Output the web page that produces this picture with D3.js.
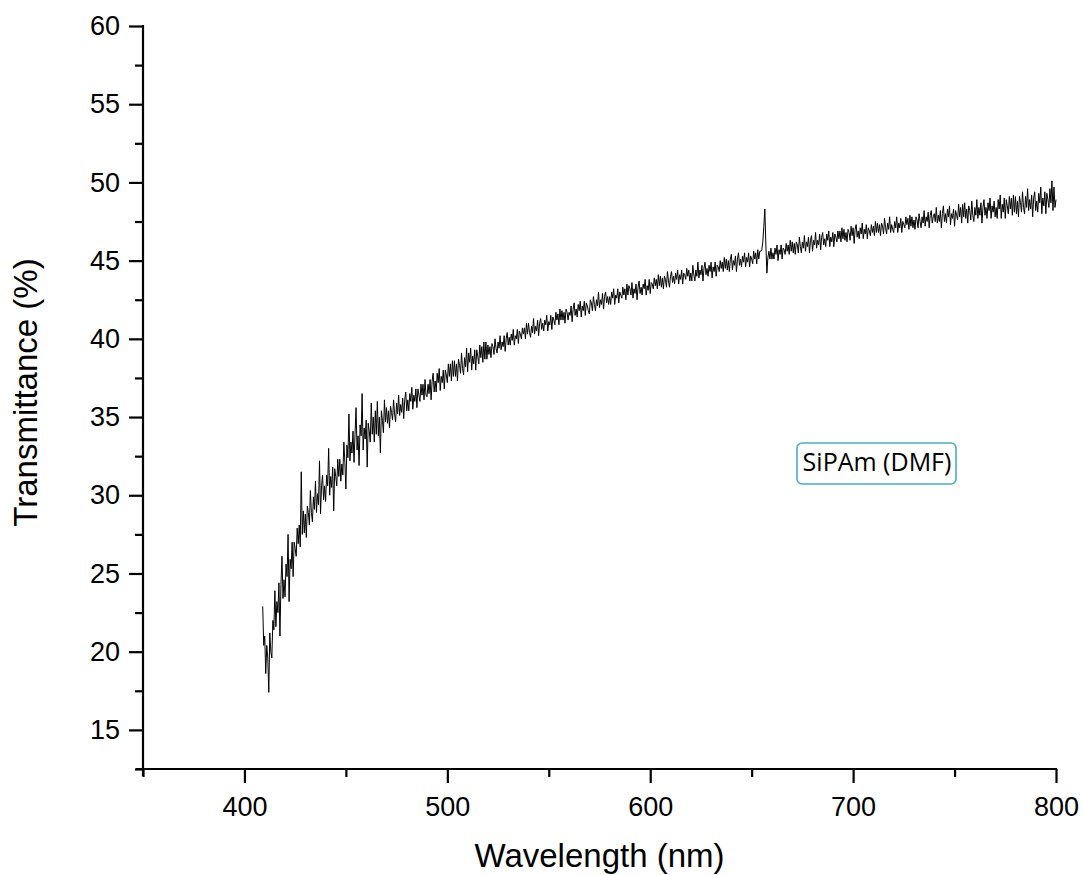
<!DOCTYPE html>
<html>
<head>
<meta charset="utf-8">
<script src="https://cdn.jsdelivr.net/npm/d3@7"></script>
<style>
  html, body { margin: 0; padding: 0; background: #fff; }
  svg { display: block; }
  .tick-label { font-family: "Liberation Sans", Arial, sans-serif; font-size: 27px; fill: #000; }
  .axis-title { font-family: "Liberation Sans", Arial, sans-serif; font-size: 33px; fill: #000; }
  .legend-text { font-family: "Open Sans", "Noto Sans", sans-serif; font-size: 25px; fill: #000; }
</style>
</head>
<body>
<svg id="chart" width="1083" height="875"></svg>
<script>
// ---- Data ----
const xDomain = [350, 800];
const yDomain = [12.5, 60];
const xMajorTicks = [400, 500, 600, 700, 800];
const xMinorTicks = [350, 450, 550, 650, 750];
const yMajorTicks = [15, 20, 25, 30, 35, 40, 45, 50, 55, 60];
const yMinorTicks = [12.5, 17.5, 22.5, 27.5, 32.5, 37.5, 42.5, 47.5, 52.5, 57.5];
const xTitle = "Wavelength (nm)";
const yTitle = "Transmittance (%)";
const legendLabel = "SiPAm (DMF)";

// spectrum sampled every 0.5 nm from 409 nm to 800 nm
const wavelengthStart = 409;
const wavelengthEnd = 800;
const wavelengthStep = 0.5;
const transmittance = [
// 409 - 424.5
22.9,20.4,21.0,18.6,20.4,19.6,17.4,21.2,20.0,19.6,
22.0,21.4,23.9,21.6,23.2,22.5,24.4,21.0,24.3,26.1,
23.4,24.6,23.5,25.6,24.8,27.5,23.2,25.9,25.3,27.0,
24.8,27.0,
// 425 - 447.5
26.6,26.1,27.9,26.9,28.1,26.7,31.5,27.5,29.0,27.6,
28.8,27.3,29.3,28.9,28.1,30.3,28.9,28.3,29.9,29.1,
30.9,28.9,30.1,29.4,32.2,28.8,30.6,31.3,29.7,30.6,
29.6,31.3,30.6,33.0,30.0,31.2,30.5,31.8,29.0,31.7,
31.2,30.6,32.3,31.2,32.3,30.9,
// 448 - 469.5
32.0,31.3,33.4,32.1,30.4,33.2,32.4,35.2,32.2,33.4,
32.7,34.1,32.1,33.9,35.6,32.9,33.8,31.9,34.5,33.8,
36.5,32.9,34.3,33.6,34.8,31.8,34.6,34.1,33.4,35.9,
33.9,35.0,33.4,35.4,33.9,36.0,33.8,35.0,32.7,35.4,
34.8,34.0,36.1,34.7,
// 470 - 519.5
35.6,34.6,35.4,34.3,35.7,35.3,34.8,36.1,35.2,34.7,
35.9,35.2,36.4,35.1,35.8,35.3,36.2,34.9,36.1,36.6,
35.4,36.1,35.4,36.5,36.0,36.9,35.5,36.4,36.0,36.8,
35.6,36.8,36.4,36.0,37.1,36.4,37.1,36.1,37.4,36.4,
36.3,37.1,36.5,37.4,36.1,37.3,37.8,36.6,37.3,36.6,
37.8,37.2,38.1,36.7,37.6,37.2,38.0,36.8,38.0,37.7,
37.2,38.4,37.6,38.4,37.3,38.6,37.6,38.6,37.6,38.4,
37.3,38.7,38.3,37.8,39.1,38.1,37.7,38.8,38.2,39.4,
37.9,39.1,38.5,39.4,38.0,38.9,38.4,39.3,38.0,39.3,
38.9,38.4,39.6,38.8,39.5,38.5,39.8,38.7,39.8,38.7,
// 520 - 649.5
39.6,39.0,39.5,38.8,39.7,39.5,39.0,40.0,39.4,39.1,
39.8,39.4,40.2,39.3,39.8,39.5,40.2,39.2,40.0,40.4,
39.6,40.1,39.6,40.3,39.9,40.6,39.6,40.2,40.0,40.6,
39.7,40.5,40.3,40.0,40.7,40.3,40.7,40.0,41.0,40.3,
41.0,40.4,40.1,40.8,40.4,41.3,40.3,40.8,40.5,41.2,
40.2,41.0,41.3,40.6,41.0,40.5,41.2,40.9,41.5,40.5,
41.1,40.9,41.5,40.6,41.4,41.2,40.9,41.7,41.2,41.6,
40.9,41.9,41.2,41.8,41.2,41.7,41.0,41.9,41.7,41.2,
41.7,41.5,42.1,41.1,41.9,42.3,41.5,41.9,41.4,42.2,
41.8,42.4,41.4,42.1,41.8,42.4,41.5,42.3,42.1,41.8,
41.6,42.5,42.3,41.8,42.7,42.2,41.8,42.5,42.1,43.0,
42.0,42.5,42.2,42.9,41.9,42.7,43.0,42.3,42.7,42.2,
42.7,42.2,43.0,42.6,43.2,42.2,42.8,42.6,43.2,42.3,
43.0,42.8,42.6,43.3,42.8,43.2,42.5,43.5,42.8,43.4,
43.2,42.8,43.6,42.6,43.2,42.9,43.5,42.5,43.3,43.7,
42.9,43.3,42.8,43.5,43.2,43.8,42.8,43.4,43.1,43.8,
42.9,43.6,43.5,43.2,43.9,43.4,43.8,43.2,44.1,43.4,
44.0,43.3,43.9,43.2,44.0,43.8,43.3,44.3,43.7,43.3,
44.0,44.3,43.6,44.0,43.5,44.2,43.8,44.4,43.5,44.1,
43.8,44.4,43.5,44.2,44.1,43.8,44.5,44.0,44.4,43.7,
44.2,43.7,44.7,44.1,43.7,44.4,44.0,44.9,43.9,44.4,
44.1,44.7,43.7,44.5,44.9,44.1,44.5,44.0,44.7,44.3,
44.9,43.9,44.6,44.3,44.9,44.0,44.7,44.6,44.3,45.0,
44.5,44.9,44.3,45.2,44.5,45.1,44.4,45.0,44.3,45.1,
45.4,44.4,45.0,44.7,45.3,44.3,45.1,45.5,44.7,45.1,
44.6,45.3,44.9,45.5,44.6,45.2,44.9,45.5,44.6,45.3,
// 650 - 659.5 (spike near 656 nm)
45.1,44.8,45.6,45.1,45.5,44.8,45.7,45.1,45.6,45.6,
45.7,46.2,47.2,48.3,46.0,44.2,45.2,45.6,45.1,45.8,
// 660 - 789.5
45.1,45.5,45.1,45.8,45.4,46.0,45.0,45.7,45.4,46.0,
45.1,45.8,45.7,45.4,46.1,45.6,46.0,45.4,46.3,45.6,
46.2,45.5,46.1,45.4,46.2,46.0,45.5,46.5,45.9,45.5,
46.2,45.8,46.6,45.6,46.2,45.9,46.5,45.5,46.3,46.6,
45.6,46.3,46.0,46.8,45.8,46.3,46.0,46.7,45.7,46.5,
46.8,46.0,46.4,45.9,46.7,46.3,46.9,45.9,46.5,46.2,
46.8,45.9,46.7,46.5,46.2,46.9,46.4,46.9,46.2,47.1,
46.4,47.0,46.3,46.8,46.2,47.0,46.8,46.3,47.2,46.6,
47.1,46.1,47.0,47.3,46.5,46.9,46.4,47.1,46.7,47.4,
46.4,47.0,46.7,47.3,46.4,47.1,46.9,46.6,47.3,46.8,
47.2,46.6,47.5,46.8,47.4,46.8,47.3,46.6,47.4,47.2,
46.7,47.7,47.1,46.7,47.4,47.0,47.8,46.8,47.3,47.0,
46.8,47.5,47.1,47.8,46.8,47.4,47.1,47.7,46.8,47.5,
47.3,47.1,47.8,47.3,47.7,47.0,47.9,47.2,47.8,47.1,
47.6,47.0,47.8,47.6,47.1,48.0,47.5,47.1,47.8,47.4,
48.2,47.2,47.8,47.5,48.1,47.1,47.9,48.2,47.4,47.8,
48.0,47.5,48.4,47.4,47.9,47.5,48.2,47.1,48.0,48.5,
47.5,48.0,47.4,48.3,47.8,48.5,47.3,48.0,47.7,48.3,
47.2,48.2,47.9,47.6,48.6,47.8,48.4,47.4,48.6,47.8,
48.7,47.7,48.3,47.4,48.5,48.2,47.6,48.8,47.9,47.5,
48.4,47.9,48.9,47.7,48.4,47.9,48.7,47.4,48.4,48.9,
47.9,48.4,47.7,48.7,48.2,49.0,47.7,48.5,48.1,48.8,
47.8,48.4,47.7,48.9,48.3,49.2,47.7,48.6,48.1,49.0,
47.7,48.9,48.5,48.0,49.1,48.3,49.0,47.9,49.2,48.1,
49.1,48.0,48.8,47.8,49.1,48.7,48.1,49.4,48.4,48.0,
49.1,48.4,49.6,48.2,48.9,48.3,49.2,47.8,49.0,49.4,
// 790 - 800
48.2,48.8,48.1,49.3,48.7,49.7,48.0,49.0,48.5,49.4,
48.0,49.3,48.9,48.4,49.6,48.7,50.1,48.2,49.7,48.4,
48.9
];
const wavelengths = d3.range(wavelengthStart, wavelengthEnd + wavelengthStep / 2, wavelengthStep);
const series = wavelengths
  .map((w, i) => ({ w, t: transmittance[i] }))
  .filter(d => d.t !== undefined);

// ---- Layout ----
const plot = { left: 143, right: 1056, top: 26, bottom: 769 };
const svg = d3.select("#chart");

const x = d3.scaleLinear().domain(xDomain).range([plot.left, plot.right]);
const y = d3.scaleLinear().domain(yDomain).range([plot.bottom, plot.top]);

// data line (drawn first, axes on top)
const line = d3.line().x(d => x(d.w)).y(d => y(d.t));
svg.append("path")
  .datum(series)
  .attr("fill", "none")
  .attr("stroke", "#000")
  .attr("stroke-width", 1)
  .attr("stroke-linejoin", "round")
  .attr("d", line);

// minor ticks
svg.append("g")
  .attr("transform", `translate(0,${plot.bottom})`)
  .call(d3.axisBottom(x).tickValues(xMinorTicks).tickSize(8).tickSizeOuter(0).tickFormat(""))
  .call(g => g.select(".domain").remove())
  .call(g => g.selectAll("line").attr("stroke", "#000").attr("stroke-width", 2.2));
svg.append("g")
  .attr("transform", `translate(${plot.left},0)`)
  .call(d3.axisLeft(y).tickValues(yMinorTicks).tickSize(8).tickSizeOuter(0).tickFormat(""))
  .call(g => g.select(".domain").remove())
  .call(g => g.selectAll("line").attr("stroke", "#000").attr("stroke-width", 2.2));

// major axes
const xAxis = svg.append("g")
  .attr("transform", `translate(0,${plot.bottom})`)
  .call(d3.axisBottom(x).tickValues(xMajorTicks).tickSize(14).tickSizeOuter(0).tickPadding(14));
xAxis.select(".domain").attr("stroke", "#000").attr("stroke-width", 2.2).attr("d", `M${plot.left - 7},0H${plot.right + 1}`);
xAxis.selectAll("line").attr("stroke", "#000").attr("stroke-width", 2.2);
xAxis.selectAll("text").attr("class", "tick-label");
xAxis.attr("font-family", null).attr("font-size", null);

const yAxis = svg.append("g")
  .attr("transform", `translate(${plot.left},0)`)
  .call(d3.axisLeft(y).tickValues(yMajorTicks).tickSize(14).tickSizeOuter(0).tickPadding(9));
yAxis.select(".domain").attr("stroke", "#000").attr("stroke-width", 2.2).attr("d", `M0,${plot.top - 1}V${plot.bottom + 7}`);
yAxis.selectAll("line").attr("stroke", "#000").attr("stroke-width", 2.2);
yAxis.selectAll("text").attr("class", "tick-label");
yAxis.attr("font-family", null).attr("font-size", null);

// axis titles
svg.append("text")
  .attr("class", "axis-title")
  .attr("text-anchor", "middle")
  .attr("x", (plot.left + plot.right) / 2)
  .attr("y", 867)
  .text(xTitle);

svg.append("text")
  .attr("class", "axis-title")
  .attr("text-anchor", "middle")
  .attr("transform", `translate(37,${(plot.top + plot.bottom) / 2 - 5}) rotate(-90)`)
  .text(yTitle);

// legend box
const legend = svg.append("g");
legend.append("rect")
  .attr("x", 797).attr("y", 443).attr("width", 159).attr("height", 41)
  .attr("rx", 5).attr("ry", 5)
  .attr("fill", "#fff").attr("stroke", "#4BACC6").attr("stroke-width", 1.6);
legend.append("text")
  .attr("class", "legend-text")
  .attr("text-anchor", "middle")
  .attr("x", 877).attr("y", 471)
  .text(legendLabel);
</script>
</body>
</html>
